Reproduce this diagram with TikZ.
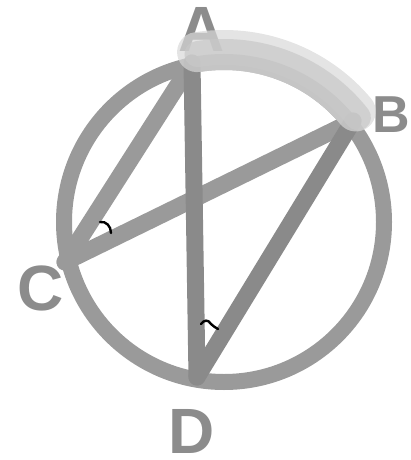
\documentclass[tikz,border=0pt]{standalone}
\usepackage{fontspec}
\setmainfont{Liberation Sans}
\begin{document}
\begin{tikzpicture}[x=1pt,y=-1pt,
  lbl/.style={text=labelgray,font=\fontsize{64}{64}\selectfont\bfseries,inner sep=0pt,anchor=base},
  chord/.style={line width=17pt,line cap=round},
  anglemark/.style={draw=black,line width=2.4pt,line cap=round}]
\definecolor{circgray}{HTML}{9A9A9A}
\definecolor{darkgray2}{HTML}{8A8A8A}
\definecolor{labelgray}{HTML}{8C8C8C}
\definecolor{hl}{HTML}{C8C8C8}
\definecolor{hlo}{HTML}{D8D8D8}
\useasboundingbox (0,0) rectangle (411,460);
\coordinate (O) at (224,222);
\coordinate (A) at (192,63);
\coordinate (B) at (353,121);
\coordinate (C) at (65,262);
\coordinate (D) at (197,377);
% labels
\node[lbl] (la) at (202,52) {A};
\node[lbl,font=\fontsize{52}{52}\selectfont\bfseries] (lb) at (391,132) {B};
\node[lbl] (lc) at (41,310) {C};
\node[lbl] (ld) at (192,453) {D};
% circle
\draw[circgray,line width=16pt] (O) circle[radius=160];
% chords
\draw[chord,circgray] (A) -- (C);
\draw[chord,circgray] (C) -- (B);
\draw[chord,darkgray2] (A) -- (D);
\draw[chord,darkgray2] (B) -- (D);
% highlight arc
\draw[hlo,opacity=0.7,line width=40pt,line cap=round] (O) ++(-99:172) arc[start angle=-99,end angle=-40,radius=172];
\draw[hl,opacity=0.7,line width=26pt,line cap=round] (O) ++(-99:170) arc[start angle=-99,end angle=-38,radius=170];
% angle marks
\draw[anglemark] (100,222) .. controls (106,221) and (111,226) .. (111,233);
\draw[anglemark] (201,324) .. controls (204,320) and (208,319) .. (211,324) .. controls (213,327) and (216,327) .. (218,329);
\end{tikzpicture}
\end{document}
